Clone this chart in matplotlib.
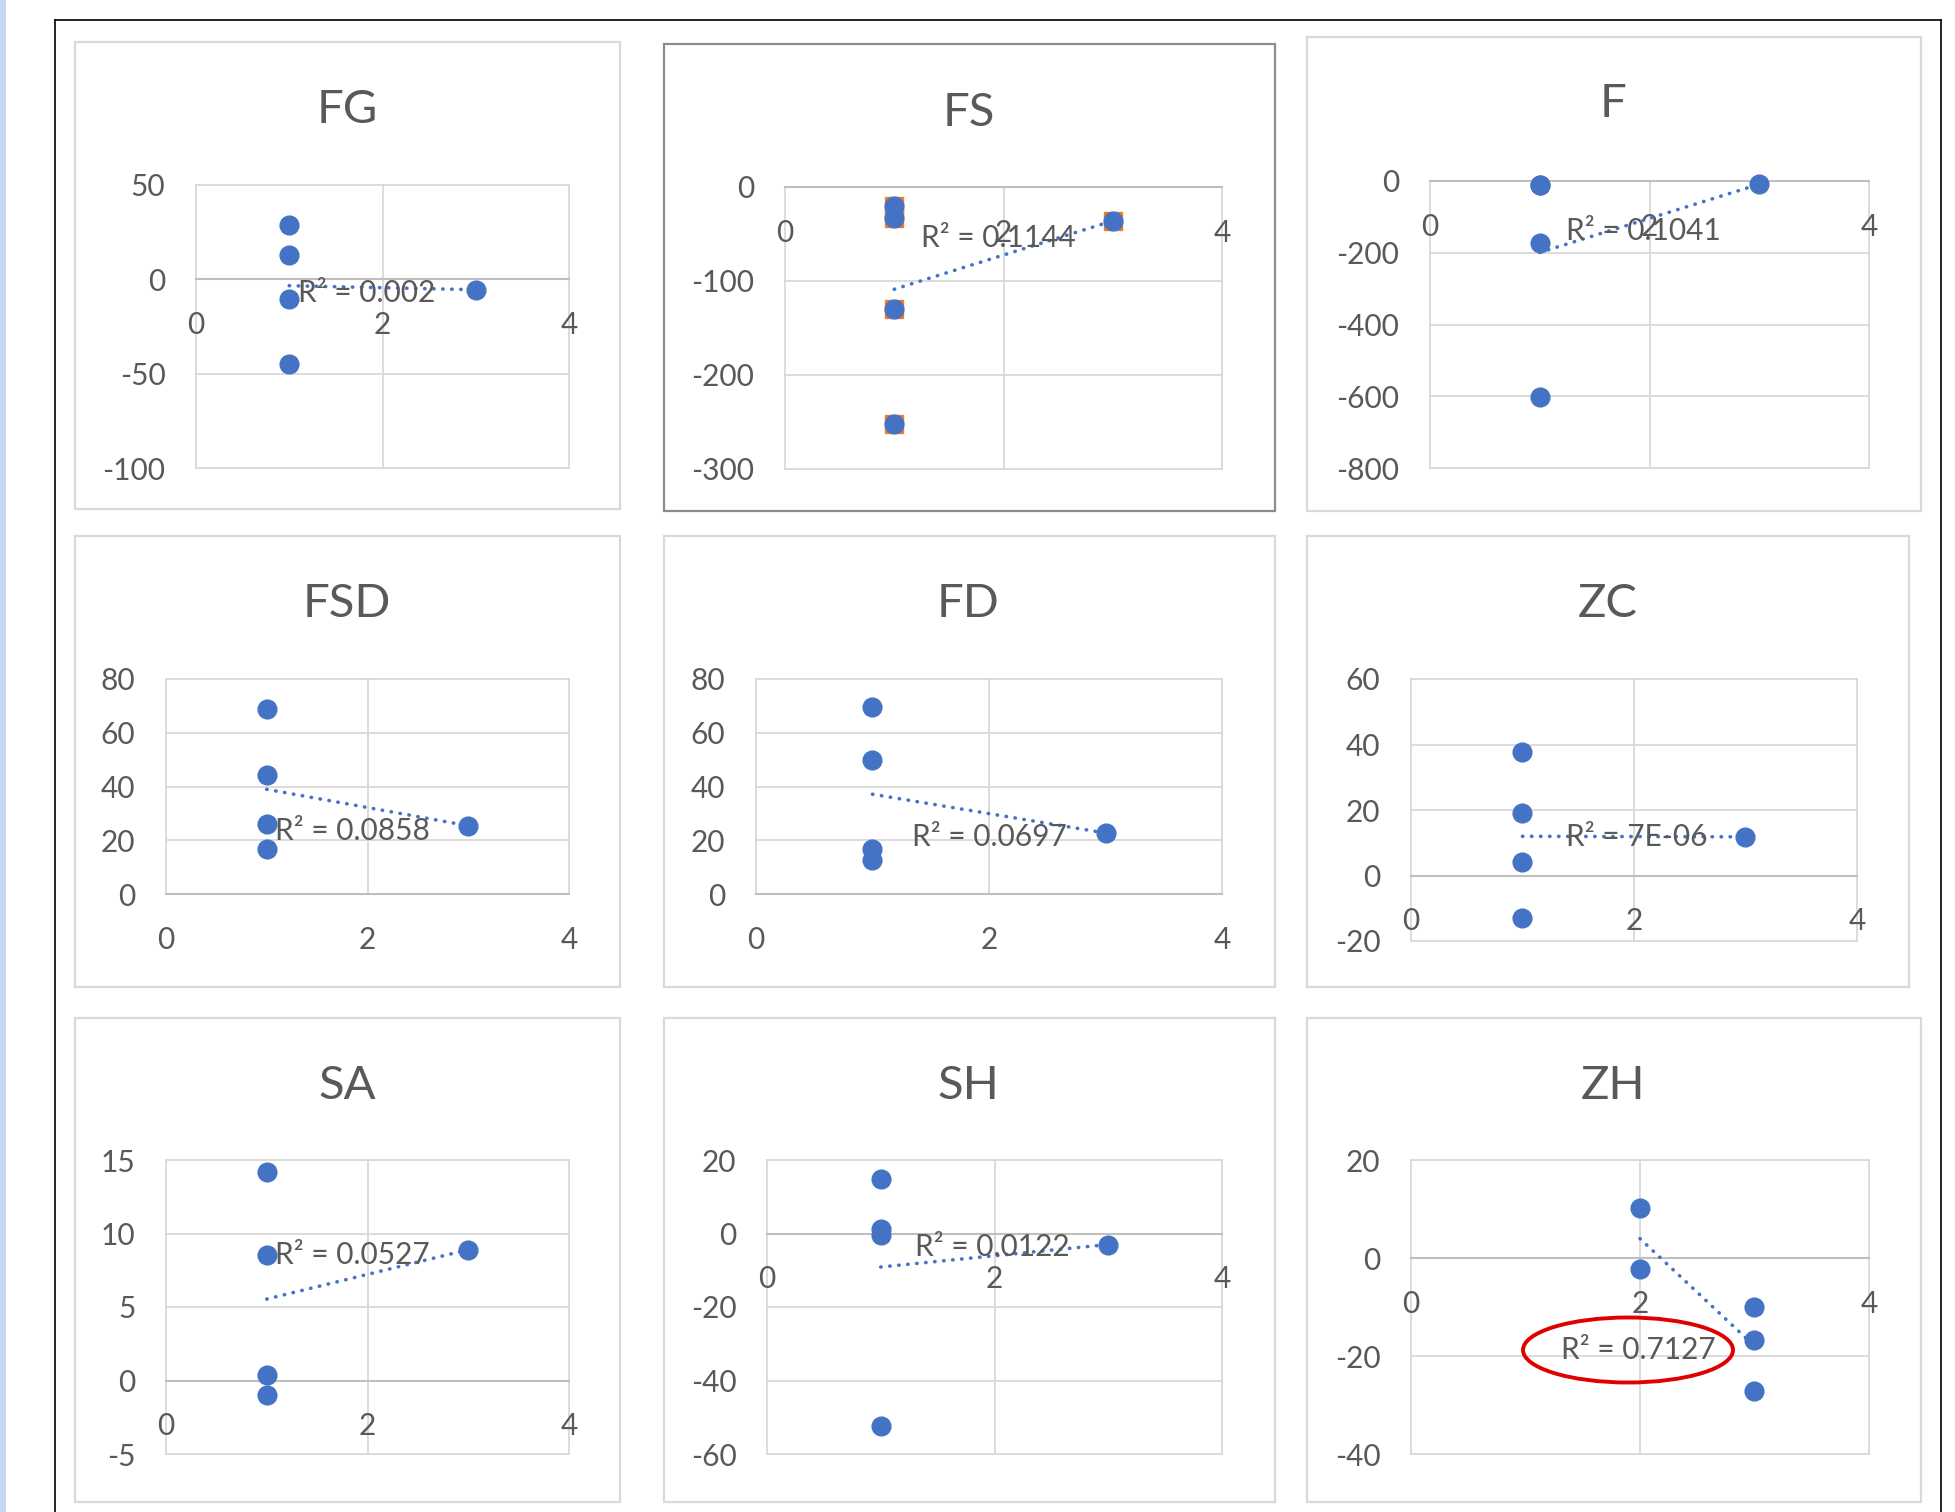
import matplotlib.pyplot as plt
from matplotlib.patches import Rectangle, Ellipse
from matplotlib.lines import Line2D
import numpy as np

plt.rcParams['font.family'] = ['Lato', 'DejaVu Sans']
plt.rcParams['axes.unicode_minus'] = False

W, H = 1956, 1512
BLUE = '#4472C4'
ORANGE = '#ED7D31'
TXT = '#595959'
GRID = '#D9D9D9'
AXIS = '#BFBFBF'

# data
fg_x = [1, 1, 1, 1, 3]
fg_y = [29, 13, -10.5, -45, -5.5]
fs_x = [1, 1, 1, 1, 3]
fs_y = [-20, -33, -130, -252, -36]
f_x = [1, 1, 1, 1, 3]
f_y = [-11, -11, -172, -603, -9]
fsd_x = [1, 1, 1, 1, 3]
fsd_y = [68.9, 44.4, 25.9, 16.6, 25.4]
fd_x = [1, 1, 1, 1, 3]
fd_y = [69.4, 50, 16.6, 12.5, 22.7]
zc_x = [1, 1, 1, 1, 3]
zc_y = [37.7, 19, 4.2, -13, 11.8]
sa_x = [1, 1, 1, 1, 3]
sa_y = [14.2, 8.56, 0.4, -1.0, 8.9]
sh_x = [1, 1, 1, 1, 3]
sh_y = [14.9, 1.35, -0.3, -52.4, -3]
zh_x = [2, 2, 3, 3, 3]
zh_y = [10.2, -2.3, -9.9, -16.8, -27.2]

titles = ['FG', 'FS', 'F', 'FSD', 'FD', 'ZC', 'SA', 'SH', 'ZH']
r2_labels = ['R² = 0.002', 'R² = 0.1144', 'R² = 0.1041', 'R² = 0.0858', 'R² = 0.0697',
             'R² = 7E-06', 'R² = 0.0527', 'R² = 0.0122', 'R² = 0.7127']
y_ranges = [(-100, 50, 50), (-300, 0, 100), (-800, 0, 200), (0, 80, 20), (0, 80, 20),
            (-20, 60, 20), (-5, 15, 5), (-60, 20, 20), (-40, 20, 20)]
x_ticks = [0, 2, 4]
series = [(fg_x, fg_y), (fs_x, fs_y), (f_x, f_y), (fsd_x, fsd_y), (fd_x, fd_y),
          (zc_x, zc_y), (sa_x, sa_y), (sh_x, sh_y), (zh_x, zh_y)]

# layout in pixels (left, top, right, bottom)
panels = [(75, 42, 620, 509), (664, 44, 1275, 511), (1307, 37, 1921, 511),
          (75, 536, 620, 987), (664, 536, 1275, 987), (1307, 536, 1909, 987),
          (75, 1018, 620, 1502), (664, 1018, 1275, 1502), (1307, 1018, 1921, 1502)]
plots = [(196, 185, 569, 468), (785, 187, 1222, 469), (1430, 181, 1869, 468),
         (166, 679, 569, 894), (756, 679, 1222, 894), (1411, 679, 1857, 941),
         (166, 1160, 569, 1454), (767, 1160, 1222, 1454), (1411, 1160, 1869, 1454)]
title_pos = [(347, 110), (969, 113), (1613, 104), (347, 604), (968, 604), (1608, 604),
             (347, 1086), (968, 1086), (1613, 1086)]
r2_pos = [(367, 293), (998, 238), (1643, 231), (352, 831), (989, 837), (1637, 837),
          (352, 1255), (992, 1247), (1638, 1350)]


def fx(px):
    return px / W


def fy(py):
    return 1 - py / H


fig = plt.figure(figsize=(W / 100, H / 100), dpi=100)

# left blue strip and black frame
fig.add_artist(Rectangle((0, 0), fx(6), 1, transform=fig.transFigure,
                         color='#C5D9F1', lw=0, zorder=-5))
frame = dict(transform=fig.transFigure, color='black', lw=1.2, zorder=-4)
fig.add_artist(Line2D([fx(55), fx(55)], [0, fy(20)], **frame))
fig.add_artist(Line2D([fx(55), fx(1941)], [fy(20), fy(20)], **frame))
fig.add_artist(Line2D([fx(1941), fx(1941)], [0, fy(20)], **frame))

for i in range(9):
    l, t, r, b = panels[i]
    ec = '#8C8C8C' if titles[i] == 'FS' else GRID
    fig.add_artist(Rectangle((fx(l), fy(b)), fx(r - l), (b - t) / H,
                             transform=fig.transFigure, fill=False, ec=ec, lw=1.6, zorder=-3))

    l, t, r, b = plots[i]
    ax = fig.add_axes([fx(l), fy(b), fx(r - l), (b - t) / H])
    ymin, ymax, step = y_ranges[i]
    yt = np.arange(ymin, ymax + step / 2, step)
    ax.set_xlim(0, 4)
    ax.set_ylim(ymin, ymax)
    ax.set_xticks(x_ticks)
    ax.set_yticks(yt)
    for v in yt:
        ax.axhline(v, color=GRID, lw=1.3, clip_on=False, zorder=0)
    for v in x_ticks:
        ax.axvline(v, color=GRID, lw=1.3, clip_on=False, zorder=0)
    ax.axhline(0, color=AXIS, lw=1.5, clip_on=False, zorder=1)
    for s in ax.spines.values():
        s.set_visible(False)
    ax.spines['bottom'].set_position(('data', 0))
    ax.tick_params(axis='both', length=0, labelsize=21.5, labelcolor=TXT)
    ax.tick_params(axis='x', pad=23)
    ax.tick_params(axis='y', pad=22)

    x, y = series[i]
    x = np.array(x, dtype=float)
    y = np.array(y, dtype=float)
    coef = np.polyfit(x, y, 1)
    xs = np.array([x.min(), x.max()])
    ax.plot(xs, np.polyval(coef, xs), color=BLUE, lw=2.6, linestyle=(0, (0.1, 2.4)),
            dash_capstyle='round', zorder=2)
    if titles[i] == 'FS':
        ax.plot(x, y, 's', color=ORANGE, ms=13.5, zorder=3, clip_on=False)
    ax.plot(x, y, 'o', color=BLUE, ms=13.5, zorder=4, clip_on=False)

    fig.text(fx(title_pos[i][0]), fy(title_pos[i][1]), titles[i], fontsize=34,
             color=TXT, ha='center', va='center')
    fig.text(fx(r2_pos[i][0]), fy(r2_pos[i][1]), r2_labels[i], fontsize=21.5,
             color=TXT, ha='center', va='center', zorder=10)

fig.add_artist(Ellipse((fx(1628), fy(1350)), fx(210), 65 / H, transform=fig.transFigure,
                       fill=False, ec='#E00000', lw=2.8, zorder=11))

fig.savefig('out.png', dpi=100)
